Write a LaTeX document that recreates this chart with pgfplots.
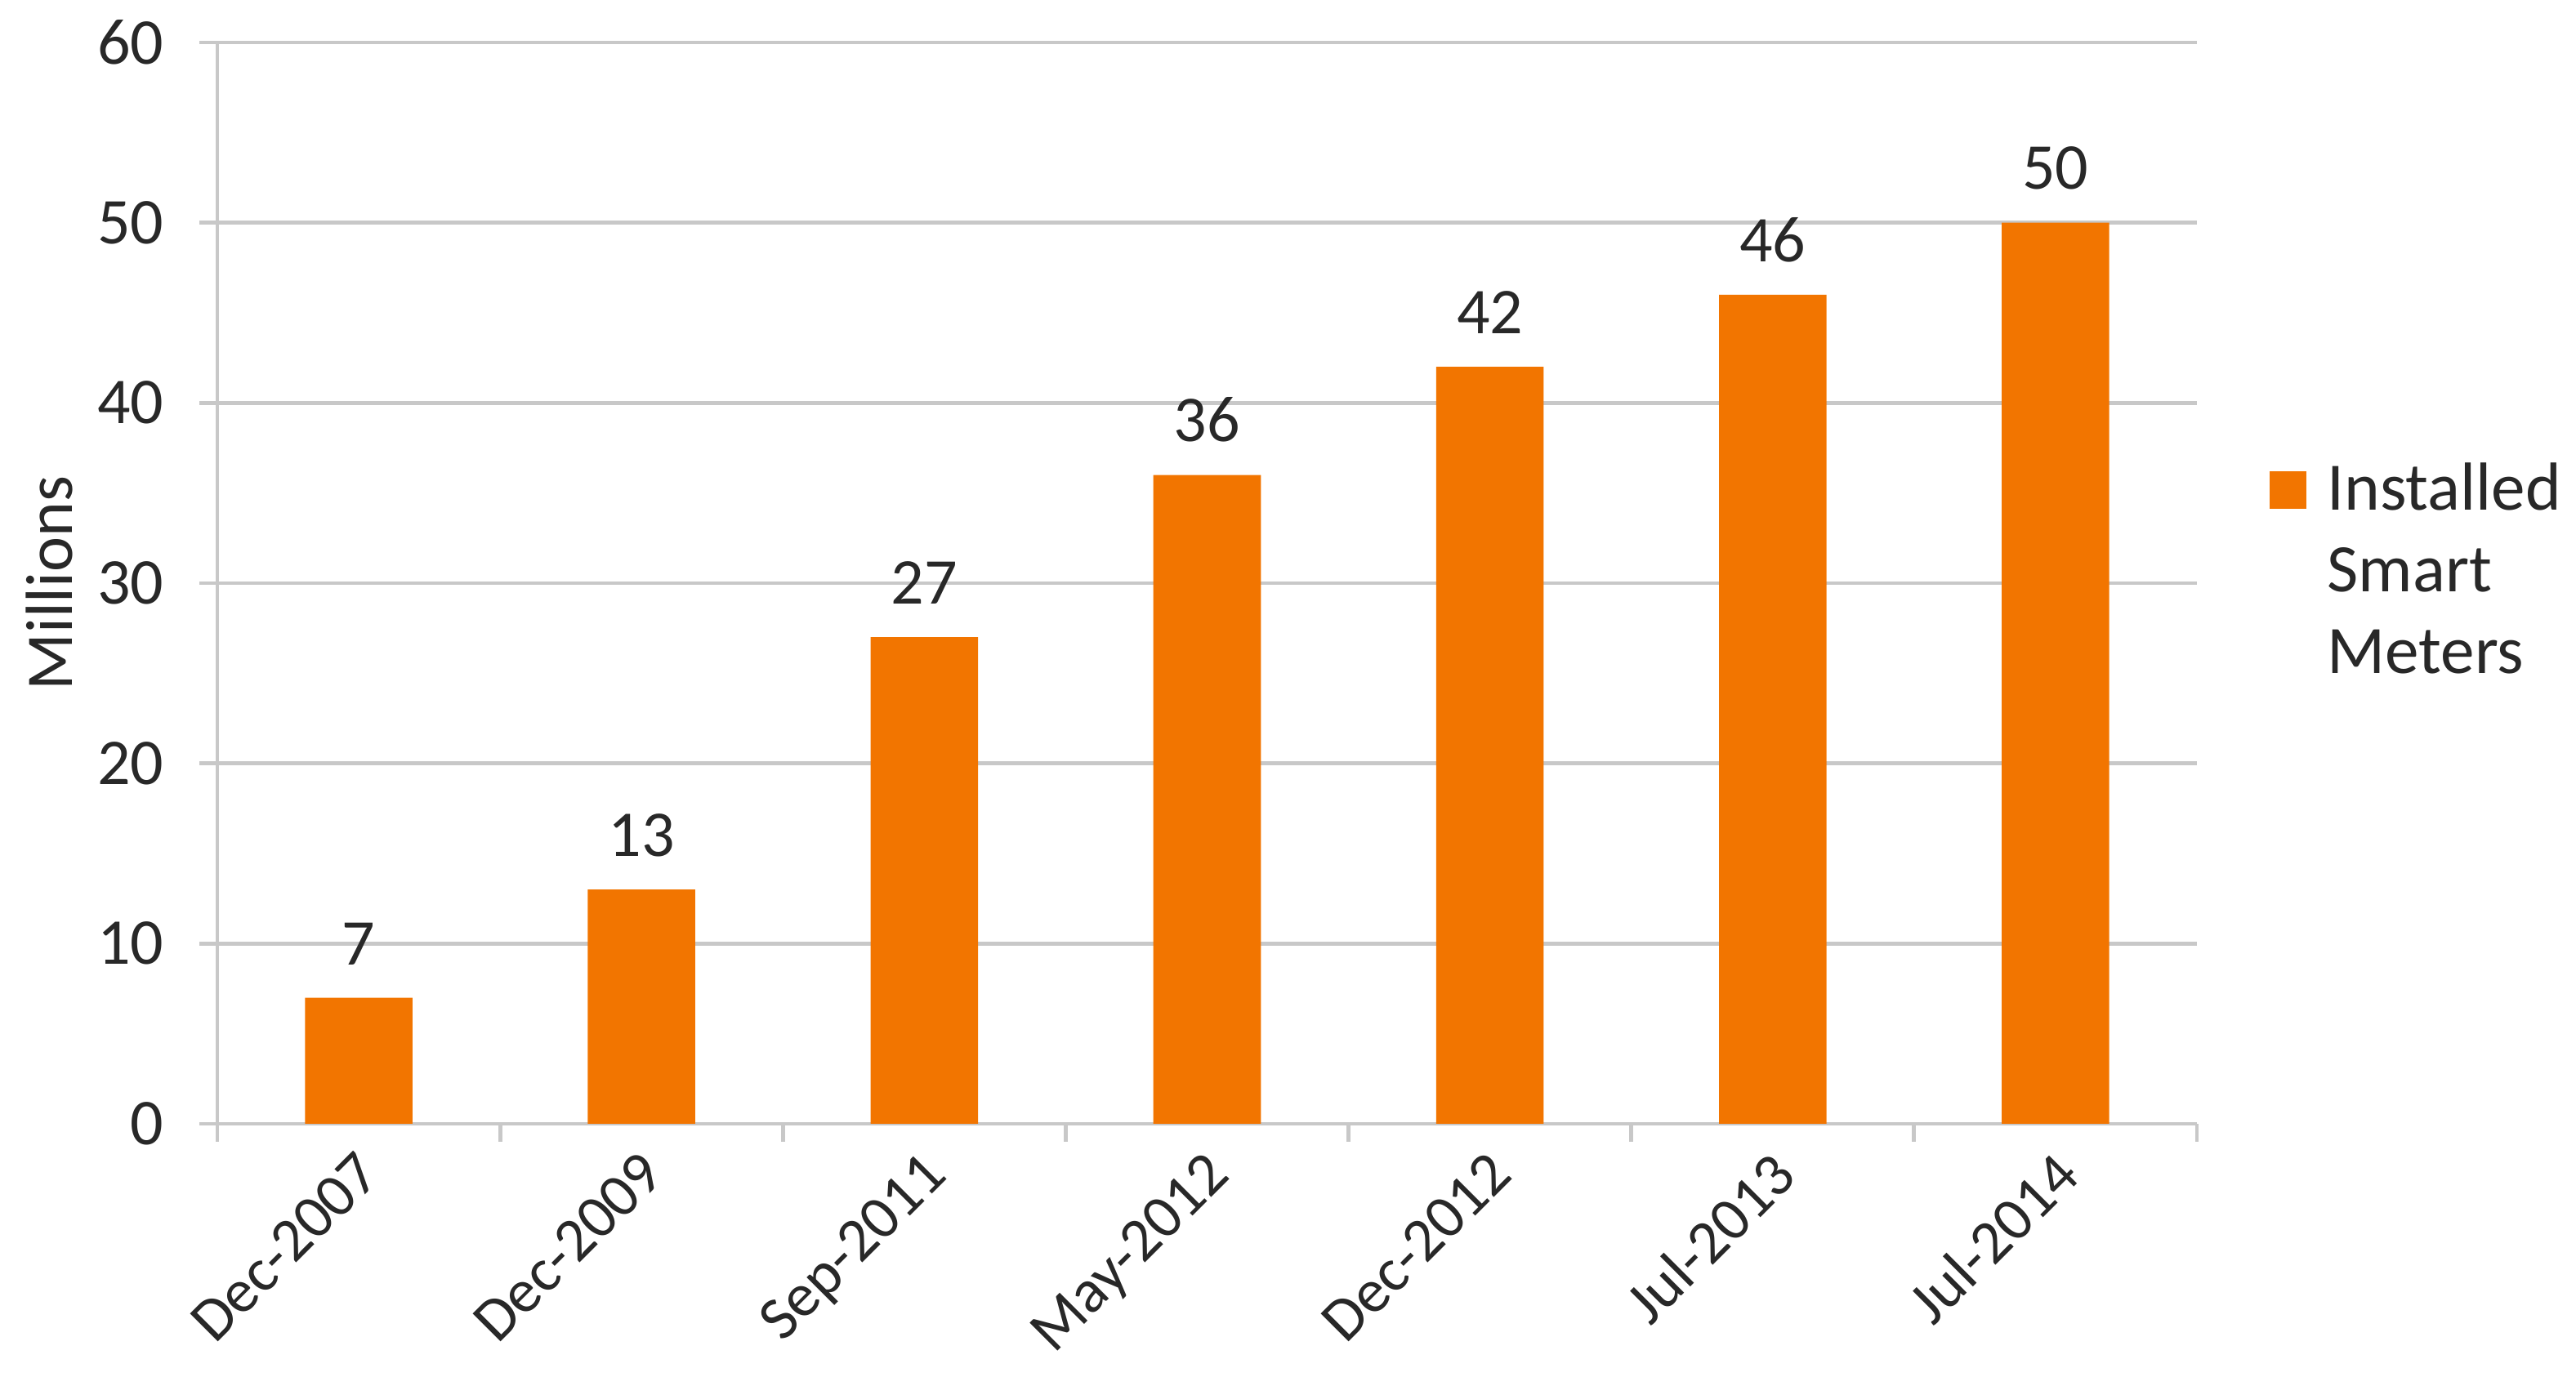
\documentclass[border=0pt]{standalone}
\usepackage{pgfplots}
\pgfplotsset{compat=1.18}
\usepackage{fontspec}
\setmainfont{Carlito}
\definecolor{barorange}{RGB}{242,117,0}
\definecolor{gridgray}{RGB}{200,200,200}
\definecolor{txt}{RGB}{40,40,40}
\begin{document}
\begin{tikzpicture}
\path[use as bounding box] (0,0) rectangle (394.125pt,210.75pt);
\begin{axis}[
  at={(33.25pt,38.75pt)}, anchor=south west,
  scale only axis, width=302.875pt, height=165.5pt,
  ybar, bar width=0.38,
  xmin=-0.5, xmax=6.5, ymin=0, ymax=60,
  ytick={0,10,...,60},
  xtick={0,...,6},
  xticklabels={Dec-2007,Dec-2009,Sep-2011,May-2012,Dec-2012,Jul-2013,Jul-2014},
  axis x line*=bottom, axis y line*=left,
  axis line style={gridgray, line width=0.6pt, -},
  ymajorgrids, grid style={gridgray, line width=0.6pt},
  tick align=outside, major tick length=2.75pt,
  xtick style={draw=none},
  ytick style={gridgray, line width=0.6pt},
  extra x ticks={-0.5,0.5,...,6.5}, extra x tick labels={},
  extra x tick style={xtick style={draw=gridgray, line width=0.6pt}, grid=none},
  tick label style={font=\fontsize{10}{12}\selectfont, text=txt},
  /pgf/number format/assume math mode=true,
  yticklabel style={xshift=-1.9pt},
  xticklabel style={font=\fontsize{9.4}{11}\selectfont, yshift=-0.8pt, xshift=-0.6pt, rotate=45, anchor=north east, inner sep=0pt},
  ylabel={Millions},
  every axis y label/.style={at={([xshift=-25.75pt]rel axis cs:0,0.5)}, rotate=90, anchor=center, font=\fontsize{10.2}{12}\selectfont, text=txt},
  nodes near coords,
  every node near coord/.append style={font=\fontsize{10}{12}\selectfont, text=txt, yshift=1.5pt},
  legend style={at={(rel axis cs:1,0.5)}, anchor=west, xshift=10.9pt, yshift=14.8pt, draw=none, fill=none, inner sep=0pt,
    font=\fontsize{10.4}{12.5}\selectfont, text=txt, column sep=1.15pt},
  legend image code/.code={\fill[barorange] (0pt,-3.4pt) rectangle (5.7pt,2.3pt);},
]
\addplot[fill=barorange, draw=none] coordinates {(0,7) (1,13) (2,27) (3,36) (4,42) (5,46) (6,50)};
\addlegendentry{\begin{tabular}[t]{@{}l@{}}Installed\\Smart\\Meters\end{tabular}}
\end{axis}
\end{tikzpicture}
\end{document}
